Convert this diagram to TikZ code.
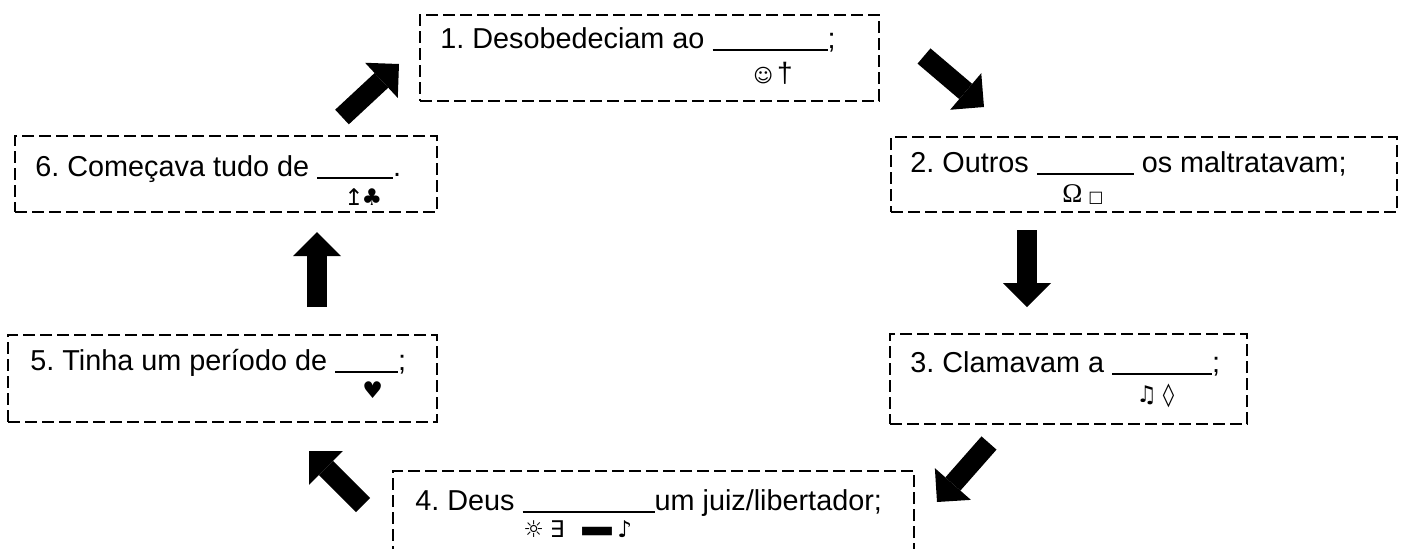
\documentclass[tikz,border=0pt]{standalone}
\usepackage{fontspec}
\setmainfont{Liberation Sans}
\newfontfamily\symfont{DejaVu Sans}
\newfontfamily\seriffont{Liberation Serif}
\usepackage{graphicx}
\usetikzlibrary{arrows.meta}
\usetikzlibrary{positioning}
\newcommand{\fillblank}[1]{\rule[-1.5pt]{#1}{0.9pt}}
\frenchspacing

\begin{document}
\begin{tikzpicture}[x=0.5pt, y=-0.5pt,
    box/.style={draw, dash pattern=on 6pt off 2.5pt, line width=0.8pt, inner sep=0pt, outer sep=0pt},
    txt/.style={font=\fontsize{14.4}{17}\selectfont, anchor=base west, inner sep=0pt},
    sym/.style={font=\fontsize{11.5}{13}\symfont, anchor=base west, inner sep=0pt},
    bigarrow/.style={line width=10pt, -{Triangle[length=12pt, width=24pt, line width=0pt]}}]
    \useasboundingbox (0,0) rectangle (1410,548);

    \node[box, minimum width=229.5pt, minimum height=43pt] (b1) at (649.5,58) {};
    \node[box, minimum width=253pt, minimum height=37.5pt] (b2) at (1144,174.5) {};
    \node[box, minimum width=178.5pt, minimum height=45pt] (b3) at (1068.5,379) {};
    \node[box, minimum width=260.5pt, minimum height=45pt] (b4) at (653.5,516) {};
    \node[box, minimum width=214.5pt, minimum height=43.5pt] (b5) at (222.5,378.5) {};
    \node[box, minimum width=211pt, minimum height=38pt] (b6) at (226,174) {};

    \node[txt] (t1) at (440,48) {1. Desobedeciam ao \fillblank{57.5pt};};
    \node[txt] (t2) at (910,172) {2. Outros \fillblank{48.5pt} os maltratavam;};
    \node[txt] (t3) at (910,372) {3. Clamavam a \fillblank{50pt};};
    \node[txt] (t4) at (415,510) {4. Deus \fillblank{66pt}um juiz/libertador;};
    \node[txt] (t5) at (30,370) {5. Tinha um período de \fillblank{31.5pt};};
    \node[txt] (t6) at (35,176) {6. Começava tudo de \fillblank{38pt}.};

    \node[sym] (s1) at (753,82) {{\fontsize{9.5}{11}\selectfont ☺}\hspace{2pt}{\rmfamily\fontsize{14}{16}\selectfont †}};
    \node[sym] (s2) at (1062,202) {{\seriffont\fontsize{13.5}{16}\selectfont Ω}\hspace{3pt}{\fontsize{8}{10}\selectfont □}};
    \node[sym] (s3) at (1136,402) {♫\hspace{3pt}◊};
    \node[sym] (s4) at (523,537) {☼\hspace{3pt}∃\hspace{7pt}\scalebox{1.7}[1]{▬}\hspace{1pt}♪};
    \node[sym] (s5) at (362,398) {♥};
    \node[sym] (s6) at (344,205) {↥\hspace{-1pt}♣};

    \coordinate (p61) at (342,117); \coordinate (q61) at (399,64);
    \coordinate (p12) at (924,56);  \coordinate (q12) at (984,107);
    \coordinate (p23) at (1027,230); \coordinate (q23) at (1027,307);
    \coordinate (p34) at (989,443); \coordinate (q34) at (937,502);
    \coordinate (p45) at (363,505); \coordinate (q45) at (309,451);
    \coordinate (p56) at (317,307); \coordinate (q56) at (317,232);

    \draw[bigarrow] (p61) -- (q61);
    \draw[bigarrow] (p12) -- (q12);
    \draw[bigarrow] (p23) -- (q23);
    \draw[bigarrow] (p34) -- (q34);
    \draw[bigarrow] (p45) -- (q45);
    \draw[bigarrow] (p56) -- (q56);
\end{tikzpicture}
\end{document}
